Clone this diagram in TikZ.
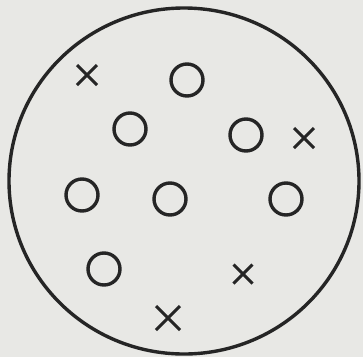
\documentclass[tikz,border=0pt]{standalone}
\usepackage{tikz}
\definecolor{paper}{HTML}{E8E8E5}
\definecolor{ink}{HTML}{252525}

\begin{document}
\begin{tikzpicture}[x = 0.03cm, y = -0.03cm, line width = 2.9pt, ink]
        \path[fill = paper](0,0)rectangle(363,357);
        \useasboundingbox(0,0)rectangle(363,357);
        \draw(184,181)circle[x radius = 175, y radius = 173]; %外側の円
        \foreach \cx/\cy in {187/80, 130/129, 246/135, 82/195, 170/199, 286/199, 104/269}
            \draw(\cx,\cy)circle[radius = 16]; %小円
        \foreach \mx/\my/\s in {87/75/10, 304/138/10, 243/274/9.5, 168/318/12}
            \draw[line width = 2.5pt](\mx-\s,\my+\s)to(\mx+\s,\my-\s)(\mx-\s,\my-\s)to(\mx+\s,\my+\s); %バツ印
    \end{tikzpicture}
\end{document}
